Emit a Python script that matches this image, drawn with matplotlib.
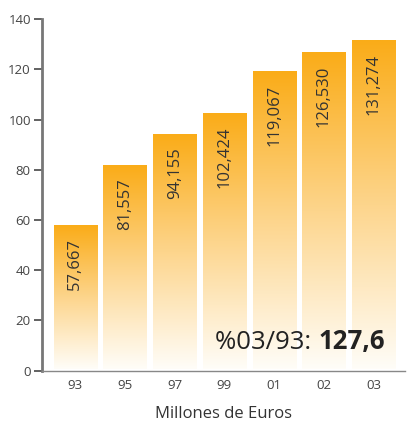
import numpy as np
import matplotlib
matplotlib.use('Agg')
import matplotlib.pyplot as plt
from matplotlib.colors import LinearSegmentedColormap

years = ['93', '95', '97', '99', '01', '02', '03']
values = [57.667, 81.557, 94.155, 102.424, 119.067, 126.530, 131.274]
labels = ['57,667', '81,557', '94,155', '102,424', '119,067', '126,530', '131,274']

plt.rcParams['font.family'] = ['Open Sans', 'DejaVu Sans']

fig = plt.figure(figsize=(4.07, 4.21), dpi=100)
ax = fig.add_axes([0.103, 0.1195, 0.892, 0.835])

cmap = LinearSegmentedColormap.from_list('grad', ['#fffdf8', '#fdd58c', '#faac18'])
grad = np.linspace(0, 1, 256).reshape(-1, 1)
w = 0.865
x = np.arange(len(years))
for i, v in enumerate(values):
    ax.imshow(grad, extent=(x[i] - w / 2, x[i] + w / 2, 0.6, v), origin='lower',
              cmap=cmap, aspect='auto', zorder=1)
    ax.text(x[i], v - 5, labels[i], rotation=90, ha='center', va='top',
            fontsize=12, color='#333333', zorder=3)

ax.set_xlim(-0.67, 6.63)
ax.set_ylim(0, 140)
ax.set_yticks(range(0, 141, 20))
ax.set_xticks(x)
ax.set_xticklabels(years)
for s in ['top', 'right']:
    ax.spines[s].set_visible(False)
ax.spines['left'].set_color('#777777')
ax.spines['left'].set_linewidth(2)
ax.spines['bottom'].set_color('#888888')
ax.spines['bottom'].set_linewidth(1)
ax.tick_params(axis='y', direction='out', length=6, width=1.3, color='#555555',
               labelsize=9.5, labelcolor='#444444', pad=2)
ax.tick_params(axis='x', length=0, labelsize=9.5, labelcolor='#444444', pad=6)
ax.set_xlabel('Millones de Euros', fontsize=12, color='#333333', labelpad=10)

t1 = ax.text(0.478, 0.08, '%03/93: ', transform=ax.transAxes, fontsize=18.5,
             color='#222222', ha='left', va='center', zorder=4)
ax.annotate('127,6', xy=(1, 0), xycoords=t1, ha='left', va='bottom',
            fontsize=18.5, fontweight='bold', color='#222222', zorder=4)

fig.savefig('out.png', dpi=100)
